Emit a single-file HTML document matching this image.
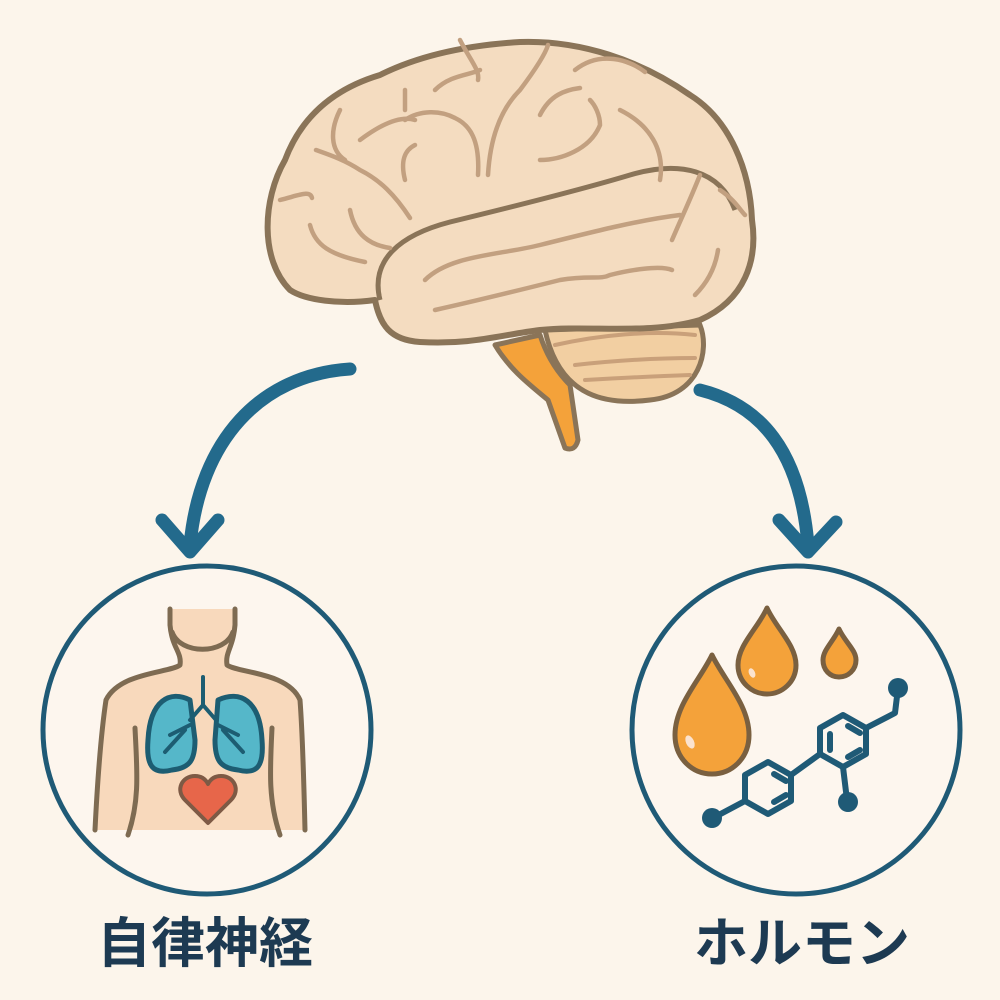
<!DOCTYPE html>
<html><head><meta charset="utf-8"><style>
html,body{margin:0;padding:0;background:#fcf5eb;}
svg{display:block}
</style></head><body>
<svg width="1000" height="1000" viewBox="0 0 1000 1000" xmlns="http://www.w3.org/2000/svg">
<rect width="1000" height="1000" fill="#fcf5eb"/>
<!-- cerebellum -->
<path d="M545 330 C560 400 610 405 650 400 C700 395 710 350 700 325 Z" fill="#f2cfa2" stroke="#8a7458" stroke-width="5"/>
<g stroke="#c9a07a" stroke-width="4" fill="none" stroke-linecap="round">
<path d="M555 345 C600 335 650 330 695 335"/>
<path d="M575 365 C620 360 660 358 695 358"/>
<path d="M585 380 C620 378 660 376 690 375"/>
</g>
<!-- brainstem -->
<path d="M495 345 L540 335 C548 360 560 375 570 385 L578 440 Q575 452 565 448 L548 400 C530 385 510 370 495 345 Z" fill="#f4a23a" stroke="#8a7458" stroke-width="5" stroke-linejoin="round"/>
<!-- brain -->
<path d="M290 290 C260 260 262 200 285 160 C300 120 330 90 380 75 C420 55 470 45 520 42 C580 40 640 60 690 95 C730 120 750 170 752 220 C758 260 745 300 700 320 C650 335 590 325 540 330 C500 335 470 345 420 342 C390 340 380 325 375 300 C340 305 305 300 290 290 Z" fill="#f4dcc0" stroke="#8a7458" stroke-width="6" stroke-linejoin="round"/>
<path d="M380 300 C370 260 400 235 450 222 C520 205 580 190 630 175 C680 160 720 170 735 210" fill="none" stroke="#8a7458" stroke-width="5"/>
<g stroke="#c2a080" stroke-width="4.5" fill="none" stroke-linecap="round">
<path d="M280 200 C300 195 310 190 312 198"/>
<path d="M310 225 C315 245 330 255 365 262"/>
<path d="M350 210 C355 235 370 245 390 248"/>
<path d="M316 150 C330 155 345 160 360 170 C380 180 395 195 410 218"/>
<path d="M340 110 C330 130 330 150 345 160"/>
<path d="M360 140 C380 125 400 115 415 120"/>
<path d="M405 180 C400 160 405 150 415 145"/>
<path d="M405 120 C420 110 440 110 455 118 C470 125 480 140 478 175"/>
<path d="M405 110 L405 90"/>
<path d="M435 90 C450 75 470 75 480 70"/>
<path d="M460 40 C470 60 480 70 478 80"/>
<path d="M488 175 C490 140 500 110 520 90 C535 70 545 55 548 45"/>
<path d="M540 115 C550 95 565 90 580 88"/>
<path d="M540 160 C560 160 590 150 600 125 C600 115 595 105 590 100"/>
<path d="M575 70 C600 50 630 60 645 72"/>
<path d="M620 110 C650 125 665 150 660 180"/>
<path d="M720 190 C735 200 740 210 745 215"/>
<path d="M700 175 C690 200 685 210 672 240"/>
<path d="M718 250 C715 270 705 285 695 295"/>
<path d="M425 280 C450 255 500 255 540 245 C600 230 640 220 680 215"/>
<path d="M435 310 C480 300 520 290 560 280 C590 275 600 280 610 275 C630 270 660 265 672 270"/>
</g>
<!-- arrows -->
<g stroke="#236a8c" stroke-width="13" fill="none" stroke-linecap="round" stroke-linejoin="round">
<path d="M350 369 C260 375 200 440 190 545"/>
<path d="M162 520 L190 552 L218 520"/>
<path d="M700 390 C760 405 800 450 808 545"/>
<path d="M779 520 L808 552 L836 522"/>
</g>
<!-- circles -->
<circle cx="207" cy="730" r="164" fill="#fdf6ee" stroke="#1f5a76" stroke-width="5"/>
<circle cx="796" cy="730" r="164" fill="#fdf6ee" stroke="#1f5a76" stroke-width="5"/>
<!-- body -->
<path d="M170 609 L170 625 C172 645 185 655 178 665 C165 672 120 672 106 700 C100 740 96 790 95 830 L305 830 C303 790 302 740 300 700 C288 672 240 672 230 665 C225 655 235 645 235 625 L235 609 Z" fill="#f8d9bc"/>
<g stroke="#7e6b52" stroke-width="5" fill="none" stroke-linecap="round" stroke-linejoin="round">
<path d="M170 609 L170 625 C172 648 182 652 180 665 C170 673 120 672 106 700 C100 740 97 790 95 830"/>
<path d="M235 609 L235 625 C233 648 225 652 227 665 C238 673 288 672 300 700 C303 740 304 790 305 830"/>
<path d="M172 632 C180 655 225 655 233 632"/>
<path d="M135 728 C137 770 140 800 128 835"/>
<path d="M272 728 C270 770 268 800 280 835"/>
</g>
<!-- lungs -->
<path d="M190 700 C170 690 150 700 148 740 C146 765 152 775 172 770 C190 768 195 760 195 740 Z" fill="#55b7c9" stroke="#1d5d72" stroke-width="5" stroke-linejoin="round"/>
<path d="M218 700 C240 690 260 700 262 740 C264 765 258 775 238 770 C220 768 215 760 215 740 Z" fill="#55b7c9" stroke="#1d5d72" stroke-width="5" stroke-linejoin="round"/>
<g stroke="#1d5d72" stroke-width="4" fill="none" stroke-linecap="round">
<path d="M203 677 L203 705 L190 720 M203 705 L216 720"/>
<path d="M190 725 L170 735 M185 730 L165 752"/>
<path d="M218 725 L238 735 M223 730 L243 752"/>
</g>
<path d="M208 823 L185 800 C175 790 182 776 195 776 C202 776 206 780 208 784 C210 780 214 776 221 776 C234 776 241 790 231 800 Z" fill="#e7664a" stroke="#7e5a45" stroke-width="4" stroke-linejoin="round"/>
<!-- drops -->
<g fill="#f4a23a" stroke="#7a6040" stroke-width="5" stroke-linejoin="round">
<path d="M712 655 C700 680 675 705 675 735 C675 758 692 774 712 774 C732 774 749 758 749 735 C749 705 724 680 712 655 Z"/>
<path d="M767 608 C758 628 738 645 738 665 C738 682 752 694 767 694 C782 694 796 682 796 665 C796 645 776 628 767 608 Z"/>
<path d="M839 629 C833 642 823 650 823 660 C823 670 830 677 839 677 C848 677 856 670 856 660 C856 650 845 642 839 629 Z"/>
</g>
<g fill="#fbe3cf">
<ellipse cx="690" cy="742" rx="4" ry="7" transform="rotate(-25 690 742)"/>
<ellipse cx="752" cy="673" rx="3" ry="5" transform="rotate(-25 752 673)"/>
</g>
<!-- molecule -->
<g stroke="#1f5a76" stroke-width="6" fill="none" stroke-linejoin="round" stroke-linecap="round">
<polygon points="768,762 791,775 791,801 768,814 745,801 745,775"/>
<polygon points="843,715 866,728 866,754 843,767 820,754 820,728"/>
<path d="M791,775 L820,754"/>
<path d="M745,801 L713,818"/>
<path d="M866,728 L895,713 L898,688"/>
<path d="M843,767 L847,800"/>
<path d="M774 774 L786 781 M774 802 L786 795"/>
<path d="M830 734 L830 750 M848 726 L860 733 M848 757 L860 750"/>
</g>
<g fill="#1f5a76">
<circle cx="712" cy="818" r="10"/>
<circle cx="898" cy="688" r="10"/>
<circle cx="848" cy="802" r="10"/>
</g>
<!-- labels -->
<text x="205" y="962" text-anchor="middle" font-family="Liberation Sans, Noto Sans CJK JP, sans-serif" font-weight="bold" font-size="54" fill="#1d3a52">自律神経</text>
<text x="802" y="962" text-anchor="middle" font-family="Liberation Sans, Noto Sans CJK JP, sans-serif" font-weight="bold" font-size="54" fill="#1d3a52">ホルモン</text>
</svg>
</body></html>
